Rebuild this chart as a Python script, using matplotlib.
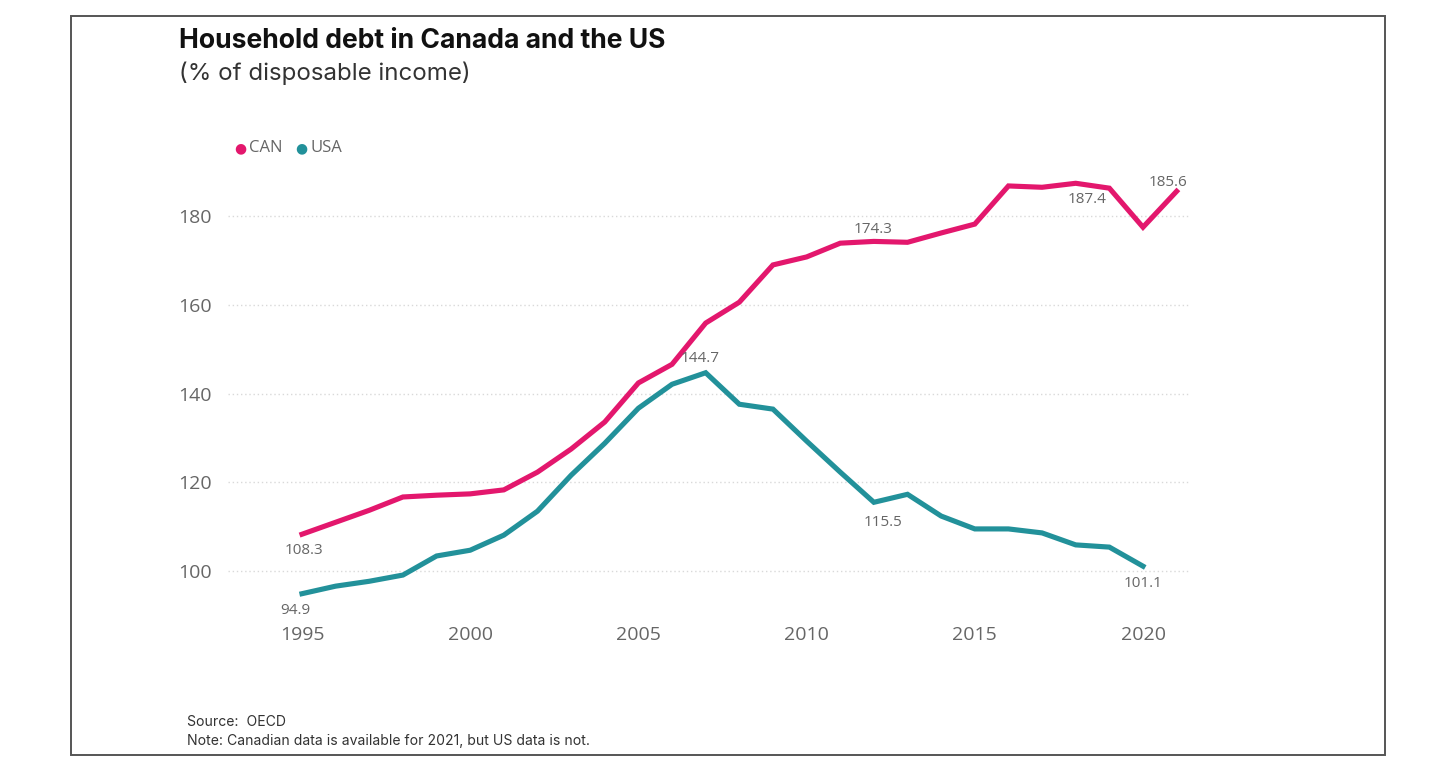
import matplotlib
matplotlib.use("Agg")
import matplotlib.pyplot as plt
from matplotlib.patches import Rectangle

years = list(range(1995, 2022))
can = [108.3, 111.0, 113.7, 116.7, 117.1, 117.4, 118.3, 122.3, 127.5, 133.6,
       142.4, 146.6, 155.9, 160.6, 169.0, 170.8, 173.9, 174.3, 174.1, 176.2,
       178.2, 186.8, 186.5, 187.4, 186.3, 177.5, 185.6]
usa_years = list(range(1995, 2021))
usa = [94.9, 96.6, 97.7, 99.1, 103.4, 104.7, 108.1, 113.5, 121.6, 128.8,
       136.7, 142.1, 144.7, 137.6, 136.5, 129.3, 122.3, 115.5, 117.3, 112.4,
       109.5, 109.5, 108.6, 105.9, 105.4, 101.1]
yticks = [100, 120, 140, 160, 180]
xticks = [1995, 2000, 2005, 2010, 2015, 2020]

CAN_C = "#E3176D"
USA_C = "#22919A"
FONT = "Open Sans"

W, H = 1456, 778
fig = plt.figure(figsize=(W / 100, H / 100), dpi=100)
fig.patch.set_facecolor("white")

# border
fig.patches.append(Rectangle((71 / W, 1 - 755 / H), (1385 - 71) / W, (755 - 16) / H,
                             transform=fig.transFigure, fill=False,
                             edgecolor="#555555", linewidth=1.4))

ax_l, ax_r = 228, 1190
ax_t, ax_b = 154, 611
ax = fig.add_axes([ax_l / W, 1 - ax_b / H, (ax_r - ax_l) / W, (ax_b - ax_t) / H])
ppy = 33.64
x0 = 1995 - (302 - ax_l) / ppy
x1 = 1995 + (ax_r - 302) / ppy
ax.set_xlim(x0, x1)
ax.set_ylim(91, 194)

ax.plot(years, can, color=CAN_C, lw=3.7, solid_joinstyle="miter", zorder=3)
ax.plot(usa_years, usa, color=USA_C, lw=3.7, solid_joinstyle="miter", zorder=3)

for s in ax.spines.values():
    s.set_visible(False)
ax.set_yticks(yticks)
ax.set_xticks(xticks)
ax.tick_params(length=0, labelsize=14, labelcolor="#666666")
ax.tick_params(axis="x", pad=11)
ax.tick_params(axis="y", pad=12)
for lab in ax.get_xticklabels() + ax.get_yticklabels():
    lab.set_fontfamily(FONT)
ax.grid(axis="y", linestyle=(0, (1, 2)), color="#d9d9d9", lw=1)
ax.set_axisbelow(True)

px = 0.72
def lab(x, y, text, dx, dy):
    ax.annotate(text, (x, y), xytext=(dx * px, -dy * px), textcoords="offset points",
                ha="center", va="center", fontsize=11, color="#666666", family=FONT)

lab(1995, 108.3, "108.3", 2, 16)
lab(1995, 94.9, "94.9", -7, 17)
lab(2007, 144.7, "144.7", -6, -14)
lab(2012, 174.3, "174.3", -1, -12)
lab(2018, 187.4, "187.4", 11, 16)
lab(2021, 185.6, "185.6", -9, -9)
lab(2012, 115.5, "115.5", 9, 20)
lab(2020, 101.1, "101.1", 0, 17)

# titles
fig.text(179 / W, 1 - 41 / H, "Household debt in Canada and the US", fontsize=19.1,
         fontweight="bold", family="Inter", color="#111111", va="center", ha="left")
fig.text(179 / W, 1 - 73 / H, "(% of disposable income)", fontsize=17.3,
         family="Inter", color="#333333", va="center", ha="left")

# legend
fig.text(240 / W, 1 - 148 / H, "\u25CF", fontsize=10, color=CAN_C, va="center", ha="center",
         family="DejaVu Sans")
fig.text(249 / W, 1 - 148 / H, "CAN", fontsize=12, color="#666666", va="center", ha="left",
         family=FONT)
fig.text(301 / W, 1 - 148 / H, "\u25CF", fontsize=10, color=USA_C, va="center", ha="center",
         family="DejaVu Sans")
fig.text(310 / W, 1 - 148 / H, "USA", fontsize=12, color="#666666", va="center", ha="left",
         family=FONT)

# footer
fig.text(187 / W, 1 - 722 / H, "Source:  OECD", fontsize=10.1, color="#333333",
         va="center", ha="left", family="Inter")
fig.text(187 / W, 1 - 741 / H, "Note: Canadian data is available for 2021, but US data is not.",
         fontsize=10.1, color="#333333", va="center", ha="left", family="Inter")

fig.savefig("out.png", dpi=100)
